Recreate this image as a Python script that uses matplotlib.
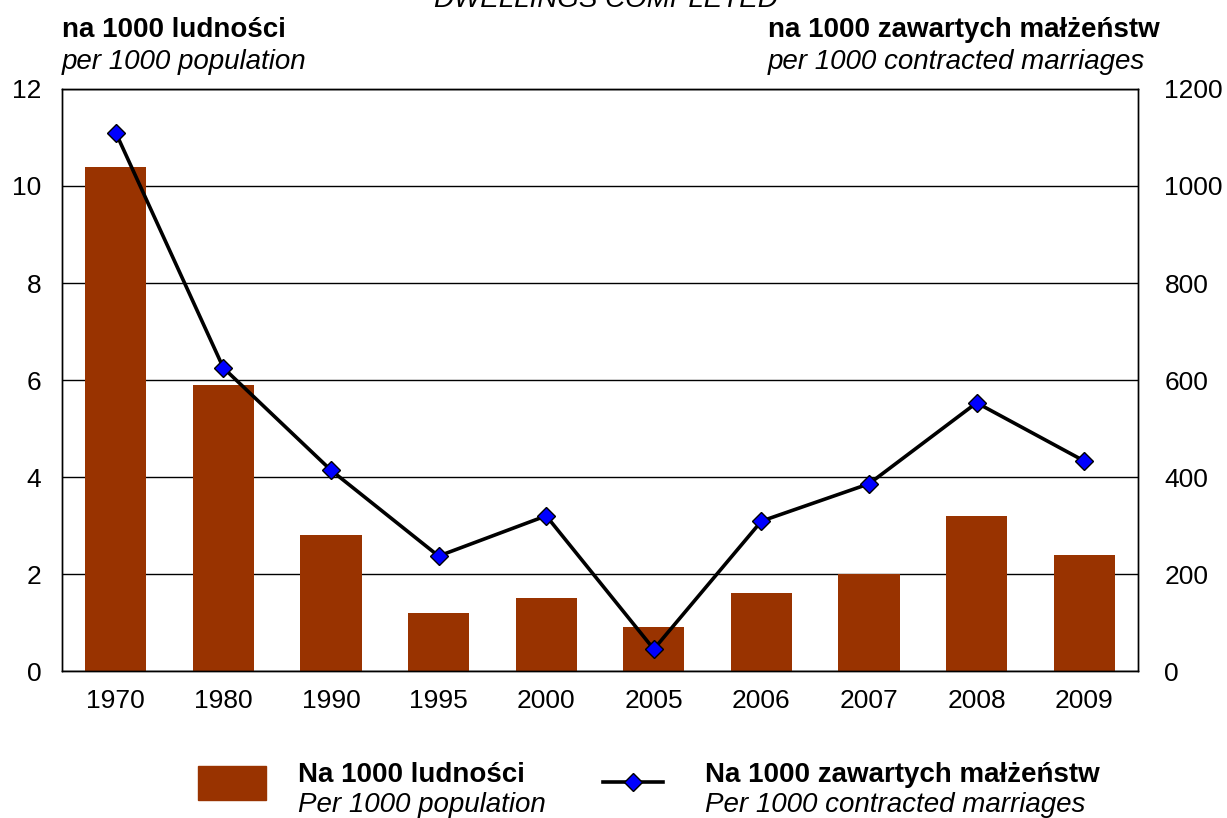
import matplotlib.pyplot as plt
from matplotlib.patches import Rectangle
from matplotlib.lines import Line2D

plt.rcParams['font.family'] = ['Liberation Sans', 'DejaVu Sans']

years = ['1970', '1980', '1990', '1995', '2000', '2005', '2006', '2007', '2008', '2009']
per_population = [10.4, 5.9, 2.8, 1.2, 1.5, 0.9, 1.6, 2.0, 3.2, 2.4]
per_marriages = [1110, 625, 414, 237, 320, 45, 309, 386, 553, 433]

bar_color = '#993300'
fs_tick = 19
fs = 20

fig = plt.figure(figsize=(12.27, 8.18), dpi=100)
ax = fig.add_axes([0.0505, 0.1797, 0.877, 0.7115])
ax2 = ax.twinx()

x = range(len(years))
ax.bar(x, per_population, width=0.57, color=bar_color, zorder=2)
ax2.plot(x, per_marriages, color='black', lw=2.6, marker='D', markersize=9,
         markerfacecolor='#0000ff', markeredgecolor='black', markeredgewidth=1.0, zorder=3)

ax.set_xlim(-0.5, len(years) - 0.5)
ax.set_ylim(0, 12)
ax2.set_ylim(0, 1200)
ax.set_yticks(range(0, 13, 2))
ax2.set_yticks(range(0, 1201, 200))
ax.set_xticks(list(x))
ax.set_xticklabels(years)

ax.yaxis.grid(True, color='black', lw=1.0)
ax.set_axisbelow(True)
for a in (ax, ax2):
    for s in a.spines.values():
        s.set_color('black')
        s.set_linewidth(1.0)
ax.tick_params(axis='y', length=0, pad=15, labelsize=fs_tick)
ax.tick_params(axis='x', length=0, pad=13, labelsize=fs_tick)
ax2.tick_params(axis='y', length=0, pad=19, labelsize=fs_tick)

# headers above the axes (the chart title runs off the top edge)
fig.text(0.4935, 1 - 7 / 818, 'DWELLINGS COMPLETED', ha='center', va='baseline',
         fontsize=fs, fontstyle='italic')
fig.text(62 / 1227, 1 - 37 / 818, 'na 1000 ludności', ha='left', va='baseline',
         fontsize=fs, fontweight='bold')
fig.text(62 / 1227, 1 - 69 / 818, 'per 1000 population', ha='left', va='baseline',
         fontsize=fs, fontstyle='italic')
fig.text(768 / 1227, 1 - 37 / 818, 'na 1000 zawartych małżeństw', ha='left', va='baseline',
         fontsize=fs, fontweight='bold')
fig.text(768 / 1227, 1 - 69 / 818, 'per 1000 contracted marriages', ha='left', va='baseline',
         fontsize=fs, fontstyle='italic')

# legend drawn in figure coordinates
fig.patches.append(Rectangle((198 / 1227, 1 - 800 / 818), 68 / 1227, 34 / 818,
                             transform=fig.transFigure, color=bar_color))
fig.lines.append(Line2D([603 / 1227, 663 / 1227], [1 - 782 / 818] * 2, transform=fig.transFigure,
                        color='black', lw=2.6))
fig.lines.append(Line2D([633 / 1227], [1 - 782 / 818], transform=fig.transFigure,
                        marker='D', markersize=9, markerfacecolor='#0000ff',
                        markeredgecolor='black', markeredgewidth=1.0, color='black'))
fig.text(298 / 1227, 1 - 782 / 818, 'Na 1000 ludności', ha='left', va='baseline',
         fontsize=fs, fontweight='bold')
fig.text(298 / 1227, 1 - 812 / 818, 'Per 1000 population', ha='left', va='baseline',
         fontsize=fs, fontstyle='italic')
fig.text(705 / 1227, 1 - 782 / 818, 'Na 1000 zawartych małżeństw', ha='left', va='baseline',
         fontsize=fs, fontweight='bold')
fig.text(705 / 1227, 1 - 812 / 818, 'Per 1000 contracted marriages', ha='left', va='baseline',
         fontsize=fs, fontstyle='italic')

fig.savefig('out.png', dpi=100)
